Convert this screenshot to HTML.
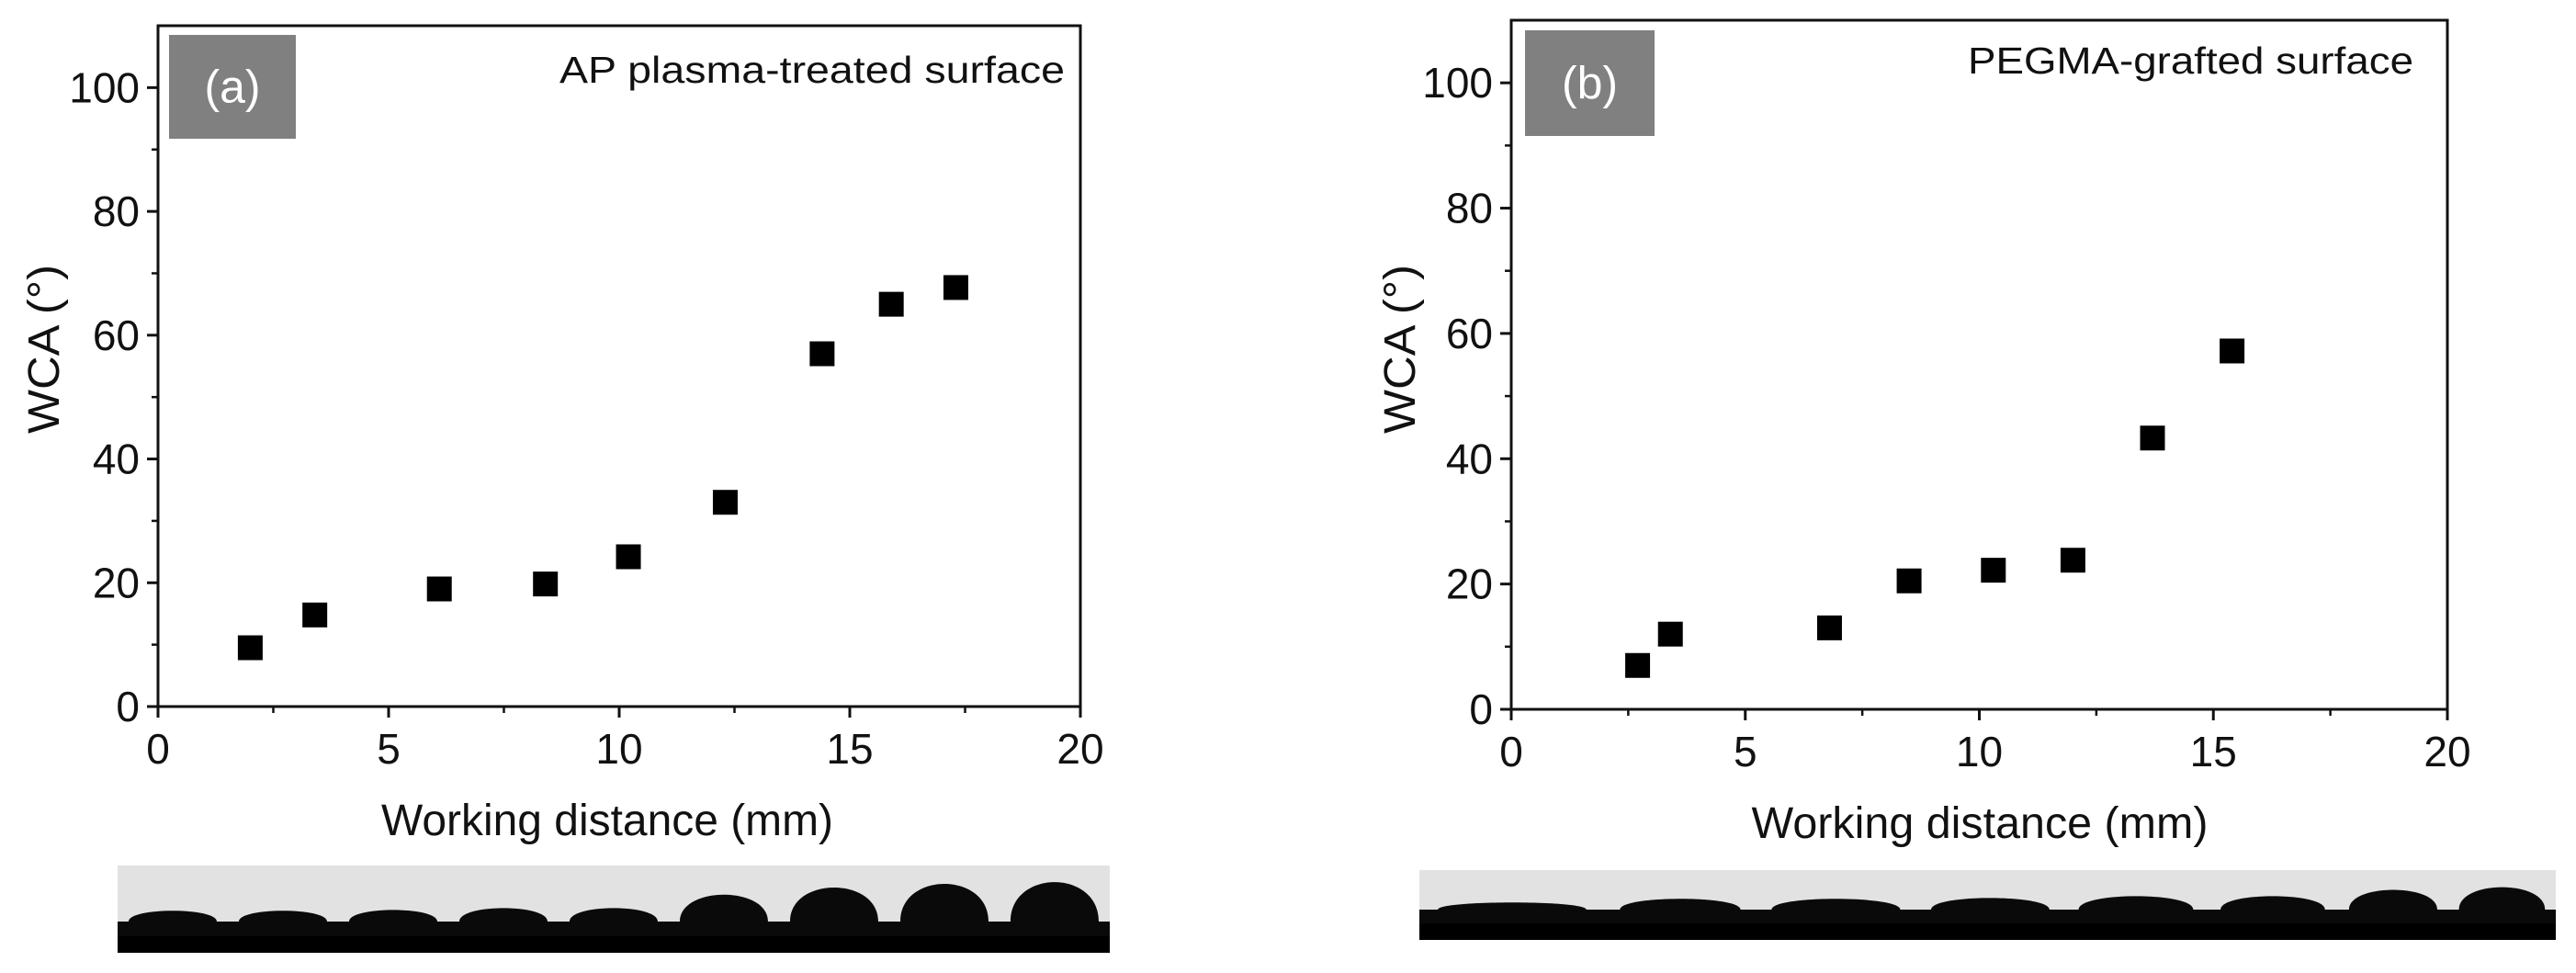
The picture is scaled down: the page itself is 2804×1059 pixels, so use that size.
<!DOCTYPE html>
<html><head><meta charset="utf-8">
<style>
html,body{margin:0;padding:0;background:#fff;}
svg{display:block;font-family:"Liberation Sans",Arial,sans-serif;}
</style></head>
<body>
<svg id="fig" width="2804" height="1059" viewBox="0 0 2804 1059" xmlns="http://www.w3.org/2000/svg">
  <g id="strips"></g>
  <g id="panelA"></g>
  <g id="panelB"></g>
</svg>
<script>
// Panel (a) data
const distA = [2.0, 3.4, 6.1, 8.4, 10.2, 12.3, 14.4, 15.9, 17.3];
const wcaA = [9.5, 14.8, 19.0, 19.8, 24.2, 33.0, 57.0, 65.0, 67.7];
// Panel (b) data
const distB = [2.7, 3.4, 6.8, 8.5, 10.3, 12.0, 13.7, 15.4];
const wcaB = [7.0, 12.0, 13.0, 20.5, 22.2, 23.8, 43.3, 57.2];
// Axis ticks
const xTicks = [0, 5, 10, 15, 20];
const xMinor = [2.5, 7.5, 12.5, 17.5];
const yTicks = [0, 20, 40, 60, 80, 100];
const yMinor = [10, 30, 50, 70, 90];

const NS = "http://www.w3.org/2000/svg";
function mk(tag, attrs, parent, text) {
  const e = document.createElementNS(NS, tag);
  for (const k in attrs) e.setAttribute(k, attrs[k]);
  if (text !== undefined) e.textContent = text;
  parent.appendChild(e);
  return e;
}

function drawPanel(g, cfg, xs, ys) {
  const X = v => cfg.x0 + (v - 0) / 20 * (cfg.x1 - cfg.x0);
  const Y = v => cfg.y0 - v / 110 * (cfg.y0 - cfg.yTop);
  const frame = mk("rect", {x: cfg.x0, y: cfg.yTop, width: cfg.x1 - cfg.x0, height: cfg.y0 - cfg.yTop, fill: "none", stroke: "#111", "stroke-width": 3}, g);
  
  
  xTicks.forEach(t => {
    const l = mk("line", {x1: X(t), x2: X(t), y1: cfg.y0, y2: cfg.y0 + 12, stroke: "#111", "stroke-width": 3}, g);
    
    
    const tx = mk("text", {x: X(t), y: cfg.y0 + 62, "text-anchor": "middle", "font-size": 46, fill: "#111"}, g, String(t));
    
    
  });
  xMinor.forEach(t => {
    const l = mk("line", {x1: X(t), x2: X(t), y1: cfg.y0, y2: cfg.y0 + 7, stroke: "#111", "stroke-width": 2.5}, g);
    
    
  });
  yTicks.forEach(t => {
    const l = mk("line", {x1: cfg.x0 - 12, x2: cfg.x0, y1: Y(t), y2: Y(t), stroke: "#111", "stroke-width": 3}, g);
    
    
    const tx = mk("text", {x: cfg.x0 - 20, y: Y(t) + 16, "text-anchor": "end", "font-size": 46, fill: "#111"}, g, String(t));
    
    
  });
  yMinor.forEach(t => {
    const l = mk("line", {x1: cfg.x0 - 7, x2: cfg.x0, y1: Y(t), y2: Y(t), stroke: "#111", "stroke-width": 2.5}, g);
    
    
  });
  const xt = mk("text", {x: cfg.xTitleC, y: cfg.y0 + 140, "text-anchor": "middle", "font-size": 48, fill: "#111", textLength: cfg.xTitleLen, lengthAdjust: "spacingAndGlyphs"}, g, "Working distance (mm)");
  
  
  const yc = cfg.yTitleC;
  const yt = mk("text", {x: cfg.yTitleX, y: yc, "text-anchor": "middle", "font-size": 48, fill: "#111", textLength: 184, lengthAdjust: "spacingAndGlyphs", transform: `rotate(-90 ${cfg.yTitleX} ${yc})`}, g, "WCA (°)");
  
  
  const box = mk("rect", {x: cfg.bx, y: cfg.by, width: cfg.bw, height: cfg.bh, fill: "#808080"}, g);
  
  
  const bl = mk("text", {x: cfg.bx + cfg.bw / 2, y: cfg.by + cfg.bh / 2 + 17, "text-anchor": "middle", "font-size": 50, fill: "#fff"}, g, cfg.label);
  
  
  const ti = mk("text", {x: cfg.titleX0, y: cfg.titleY, "font-size": 41, fill: "#111", textLength: cfg.titleLen, lengthAdjust: "spacingAndGlyphs"}, g, cfg.title);
  
  
  xs.forEach((v, i) => {
    const s = 27;
    const r = mk("rect", {x: X(v) - s / 2, y: Y(ys[i]) - s / 2, width: s, height: s, fill: "#000"}, g);
    
    
  });
}

drawPanel(document.getElementById("panelA"),
  {x0: 172, x1: 1176, y0: 769, yTop: 28, yTitleX: 64, yTitleC: 380, xTitleC: 661, xTitleLen: 492,
   bx: 184, by: 38, bw: 138, bh: 113,
   label: "(a)", title: "AP plasma-treated surface", titleX0: 609, titleLen: 550, titleY: 90}, distA, wcaA);
drawPanel(document.getElementById("panelB"),
  {x0: 1645, x1: 2664, y0: 772, yTop: 22, yTitleX: 1540, yTitleC: 380, xTitleC: 2155, xTitleLen: 497,
   bx: 1660, by: 33, bw: 141, bh: 115,
   label: "(b)", title: "PEGMA-grafted surface", titleX0: 2142, titleLen: 485, titleY: 80}, distB, wcaB);

const sg = document.getElementById("strips");
function strip(x0, x1, yT, yB, base, segs, heights, name) {
  const g = mk("g", {}, sg);
  
  
  mk("rect", {x: x0, y: yT, width: x1 - x0, height: yB - yT, fill: "#e2e2e2"}, g);
  let d = `M${x0} ${yB} L${x0} ${base}`;
  for (let i = 0; i < segs.length - 1; i++) {
    const a = segs[i], b = segs[i + 1], h = heights[i];
    const w = b - a;
    const l = a + w * 0.1, r = b - w * 0.1;
    d += ` L${l} ${base} C${l} ${base - h * 1.3} ${r} ${base - h * 1.3} ${r} ${base}`;
  }
  d += ` L${x1} ${base} L${x1} ${yB} Z`;
  mk("path", {d: d, fill: "#0a0a0a"}, g);
  mk("rect", {x: x0, y: yB - 18, width: x1 - x0, height: 18, fill: "#000"}, g);
}
strip(128, 1208, 942, 1037, 1003,
  [128, 248, 368, 488, 608, 728, 848, 968, 1088, 1208],
  [12, 12, 13, 15, 15, 30, 38, 42, 44], "droplet-strip-a");
strip(1545, 2782, 947, 1023, 990,
  [1545, 1747, 1911, 2086, 2247, 2403, 2545, 2665, 2782],
  [8, 12, 12, 13, 15, 15, 22, 25], "droplet-strip-b");
</script>
</body></html>
